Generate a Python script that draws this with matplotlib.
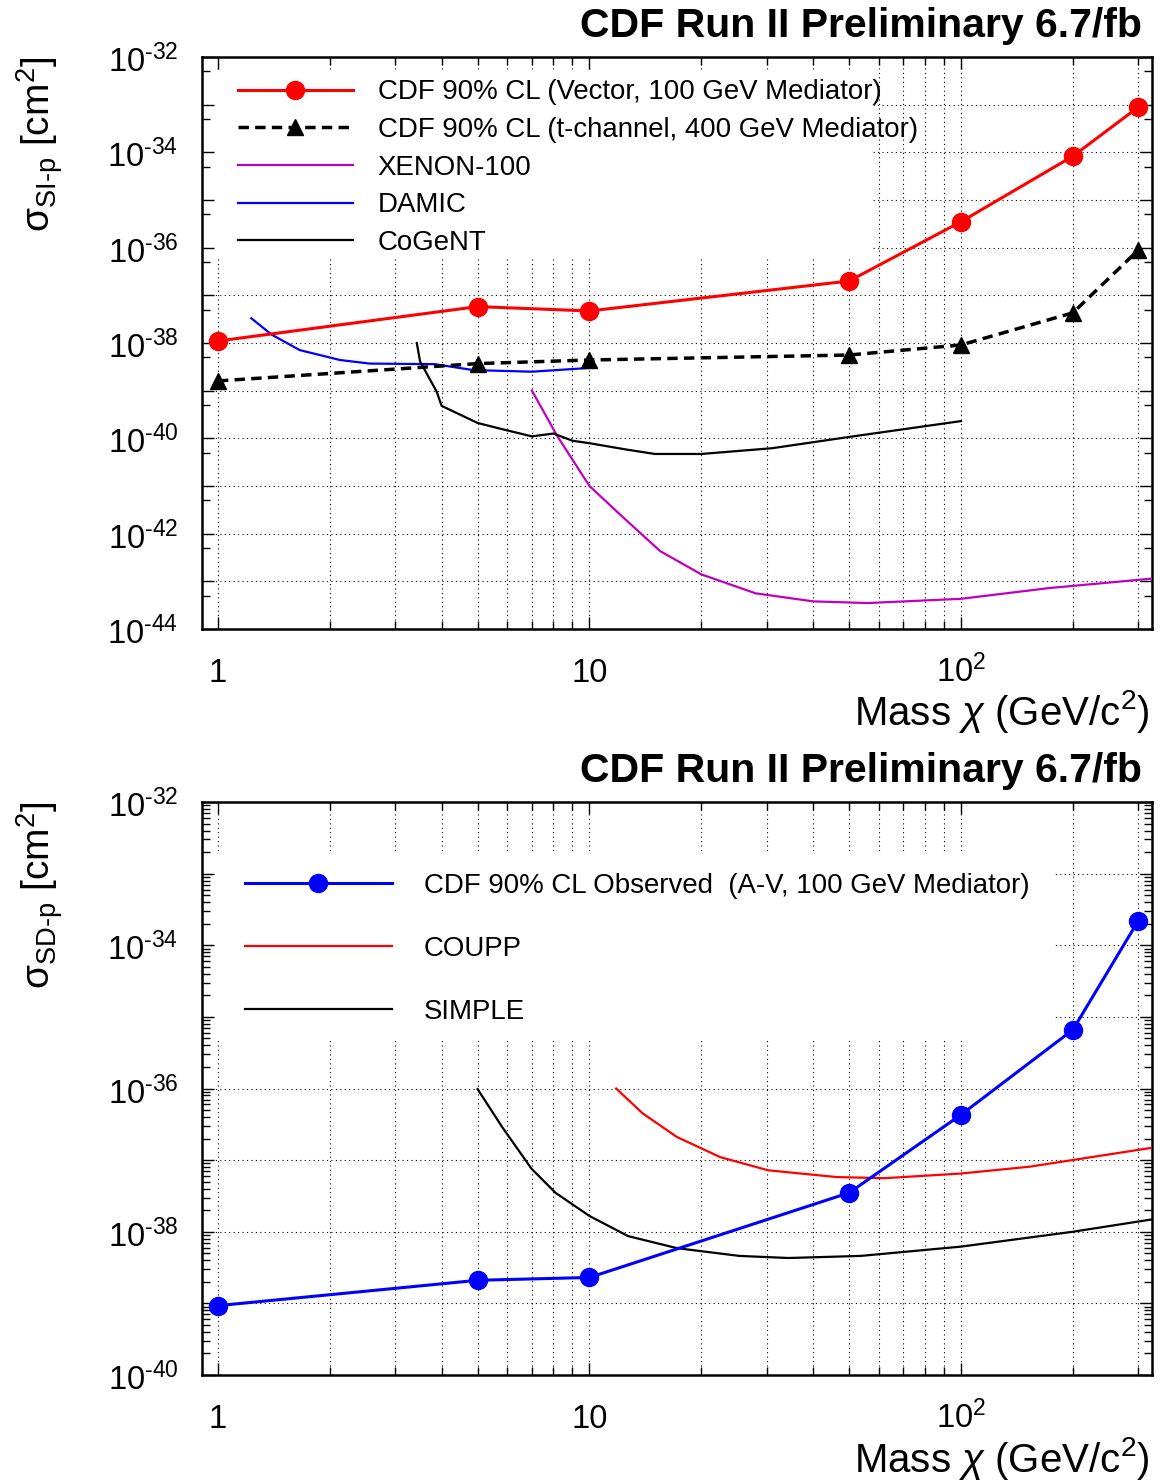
import matplotlib
matplotlib.use('Agg')
import matplotlib.pyplot as plt
from matplotlib.ticker import LogLocator, NullFormatter
from matplotlib.patches import Rectangle
from matplotlib.transforms import ScaledTranslation

plt.rcParams['font.family'] = ['Liberation Sans', 'DejaVu Sans']
plt.rcParams['mathtext.fontset'] = 'custom'
plt.rcParams['mathtext.rm'] = 'Liberation Sans'
plt.rcParams['mathtext.it'] = 'Liberation Sans:italic'
plt.rcParams['mathtext.bf'] = 'Liberation Sans:bold'

# ---------------- data: top panel (spin-independent) ----------------
mass_cdf = [1, 5, 10, 50, 100, 200, 300]
sigma_vector = [1.1e-38, 5.8e-38, 4.7e-38, 2.0e-37, 3.5e-36, 8.3e-35, 8.9e-34]
sigma_tchannel = [1.6e-39, 3.7e-39, 4.4e-39, 5.6e-39, 9.1e-39, 4.3e-38, 8.9e-37]

mass_xenon = [7, 8.2, 10, 12.1, 15.5, 20, 28, 40, 56, 100, 172, 330]
sigma_xenon = [1.0e-39, 1.1e-40, 1.0e-41, 2.5e-42, 4.3e-43, 1.4e-43, 5.6e-44,
               3.8e-44, 3.5e-44, 4.3e-44, 7.2e-44, 1.15e-43]

mass_damic = [1.23, 1.395, 1.66, 2.13, 2.56, 3.83, 4.87, 7.0, 10]
sigma_damic = [3.3e-38, 1.5e-38, 7.1e-39, 4.4e-39, 3.7e-39, 3.6e-39, 2.7e-39,
               2.5e-39, 3.0e-39]

mass_cogent = [3.43, 3.5, 3.88, 4.0, 5.0, 5.74, 7.0, 8.0, 9.0, 10, 12.6, 15,
               20, 31, 50, 100]
sigma_cogent = [1.0e-38, 4.1e-39, 9.5e-40, 4.8e-40, 2.1e-40, 1.6e-40, 1.1e-40,
                1.26e-40, 8.9e-41, 7.9e-41, 5.8e-41, 4.7e-41, 4.7e-41, 6.2e-41,
                1.07e-40, 2.3e-40]

labels_top = ['CDF 90% CL (Vector, 100 GeV Mediator)',
              'CDF 90% CL (t-channel, 400 GeV Mediator)',
              'XENON-100', 'DAMIC', 'CoGeNT']

# ---------------- data: bottom panel (spin-dependent) ----------------
sigma_av = [9.3e-40, 2.1e-39, 2.3e-39, 3.5e-38, 4.3e-37, 6.6e-36, 2.2e-34]

mass_coupp = [11.8, 13.9, 17.2, 22.5, 30.3, 46.3, 62.4, 100, 153, 330]
sigma_coupp = [1.0e-36, 4.5e-37, 2.1e-37, 1.1e-37, 7.2e-38, 5.8e-38, 5.6e-38,
               6.5e-38, 8.1e-38, 1.5e-37]

mass_simple = [5, 5.82, 6.98, 8.1, 10, 12.7, 17.2, 25.3, 34.3, 53.7, 100, 200, 330]
sigma_simple = [9.8e-37, 2.9e-37, 7.6e-38, 3.5e-38, 1.66e-38, 8.7e-39, 5.9e-39,
                4.6e-39, 4.3e-39, 4.6e-39, 6.2e-39, 1.0e-38, 1.5e-38]

labels_bottom = ['CDF 90% CL Observed  (A-V, 100 GeV Mediator)', 'COUPP', 'SIMPLE']

# ---------------- ticks / text ----------------
xtick_vals = [1, 10, 100]
xtick_labels = ['1', '10', r'$10^{2}$']

ytick_top_vals = [1e-44, 1e-43, 1e-42, 1e-41, 1e-40, 1e-39, 1e-38, 1e-37,
                  1e-36, 1e-35, 1e-34, 1e-33, 1e-32]
ytick_top_labels = [r'$10^{\text{-44}}$', '', r'$10^{\text{-42}}$', '',
                    r'$10^{\text{-40}}$', '', r'$10^{\text{-38}}$', '',
                    r'$10^{\text{-36}}$', '', r'$10^{\text{-34}}$', '',
                    r'$10^{\text{-32}}$']
ytick_bot_vals = [1e-40, 1e-39, 1e-38, 1e-37, 1e-36, 1e-35, 1e-34, 1e-33, 1e-32]
ytick_bot_labels = [r'$10^{\text{-40}}$', '', r'$10^{\text{-38}}$', '',
                    r'$10^{\text{-36}}$', '', r'$10^{\text{-34}}$', '',
                    r'$10^{\text{-32}}$']

title_text = 'CDF Run II Preliminary 6.7/fb'
xlabel_text = r'Mass $\chi$ (GeV/c$^{2}$)'
ylabel_top = r'$\mathrm{\sigma}_{\text{SI-p}}$ [cm$^{2}$]'
ylabel_bot = r'$\mathrm{\sigma}_{\text{SD-p}}$ [cm$^{2}$]'

W, H = 1167, 1480
fig = plt.figure(figsize=(W / 100, H / 100), dpi=100)
ax1 = fig.add_axes([202 / W, 1 - 629 / H, 950 / W, 572 / H])
ax2 = fig.add_axes([202 / W, 1 - 1375 / H, 950 / W, 573 / H])

GRID_LS = (0, (1, 3))
ylab_shift = ScaledTranslation(0, -5 / 100, fig.dpi_scale_trans)


def style(ax, yvals, ylabels, ylim, minor_subs, ylabel, legend_rect):
    ax.set_xscale('log')
    ax.set_yscale('log')
    ax.set_xlim(0.906, 326.6)
    ax.set_ylim(*ylim)
    ax.set_xticks(xtick_vals, labels=xtick_labels)
    ax.xaxis.set_minor_locator(LogLocator(base=10, subs=range(2, 10), numticks=30))
    ax.xaxis.set_minor_formatter(NullFormatter())
    ax.set_yticks(yvals, labels=ylabels)
    ax.yaxis.set_minor_locator(LogLocator(base=10, subs=minor_subs, numticks=60))
    ax.yaxis.set_minor_formatter(NullFormatter())
    ax.set_axisbelow(True)
    ax.grid(True, which='both', axis='x', color='black', lw=0.8, ls=GRID_LS)
    ax.grid(True, which='major', axis='y', color='black', lw=0.8, ls=GRID_LS)
    ax.tick_params(which='both', direction='in', top=True, right=True, width=1.0)
    ax.tick_params(which='major', length=8.6)
    ax.tick_params(which='minor', length=5.5)
    ax.tick_params(axis='x', which='major', labelsize=23.5, pad=38.5)
    ax.tick_params(axis='y', which='major', labelsize=23.5, pad=17)
    for t in ax.xaxis.get_major_ticks():
        t.label1.set_verticalalignment('baseline')
    for t in ax.yaxis.get_major_ticks():
        t.label1.set_verticalalignment('center')
        t.label1.set_transform(t.label1.get_transform() + ylab_shift)
    for s in ax.spines.values():
        s.set_linewidth(1.8)
    ax.text(0.9895, 1.035, title_text, transform=ax.transAxes, ha='right',
            va='baseline', fontsize=29.5, fontweight='bold')
    ax.set_xlabel(xlabel_text, fontsize=29, loc='right')
    ax.xaxis.set_label_coords(0.9979, -0.1685)
    ax.xaxis.label.set_verticalalignment('baseline')
    ax.set_ylabel(ylabel, fontsize=28, loc='top')
    ax.yaxis.set_label_coords(-0.144, 1.0)
    x0, y0, x1, y1 = legend_rect
    ax.add_patch(Rectangle((x0, y0), x1 - x0, y1 - y0, transform=ax.transAxes,
                           facecolor='white', edgecolor='none', zorder=1))


style(ax1, ytick_top_vals, ytick_top_labels, (1e-44, 1e-32), (5,), ylabel_top,
      (0.0135, 0.6486, 0.7063, 0.9773))
style(ax2, ytick_bot_vals, ytick_bot_labels, (1e-40, 1e-32), range(2, 10), ylabel_bot,
      (0.0135, 0.5846, 0.898, 0.911))

# ---- top panel curves ----
h1, = ax1.plot(mass_cdf, sigma_vector, color='red', lw=2.2, marker='o', ms=13,
               zorder=4)
h2, = ax1.plot(mass_cdf, sigma_tchannel, color='black', lw=2.5, ls=(0, (3, 1.8)),
               marker='^', ms=12, zorder=4)
h3, = ax1.plot(mass_xenon, sigma_xenon, color='#c000c0', lw=1.6, zorder=3)
h4, = ax1.plot(mass_damic, sigma_damic, color='blue', lw=1.6, zorder=3)
h5, = ax1.plot(mass_cogent, sigma_cogent, color='black', lw=1.6, zorder=3)
ax1.legend([h1, h2, h3, h4, h5], labels_top, loc='upper left',
           bbox_to_anchor=(0.0379, 0.9607), borderpad=0, borderaxespad=0,
           frameon=False, fontsize=19.9, handlelength=4.15, handletextpad=0.9,
           labelspacing=0.42, numpoints=1)

# ---- bottom panel curves ----
g1, = ax2.plot(mass_cdf, sigma_av, color='blue', lw=2.2, marker='o', ms=13, zorder=4)
g2, = ax2.plot(mass_coupp, sigma_coupp, color='red', lw=1.6, zorder=3)
g3, = ax2.plot(mass_simple, sigma_simple, color='black', lw=1.6, zorder=3)
ax2.legend([g1, g2, g3], labels_bottom, loc='upper left',
           bbox_to_anchor=(0.0453, 0.876), borderpad=0, borderaxespad=0,
           frameon=False, fontsize=19.9, handlelength=5.3, handletextpad=1.16,
           labelspacing=1.34, numpoints=1)

fig.savefig('out.png', dpi=100)
